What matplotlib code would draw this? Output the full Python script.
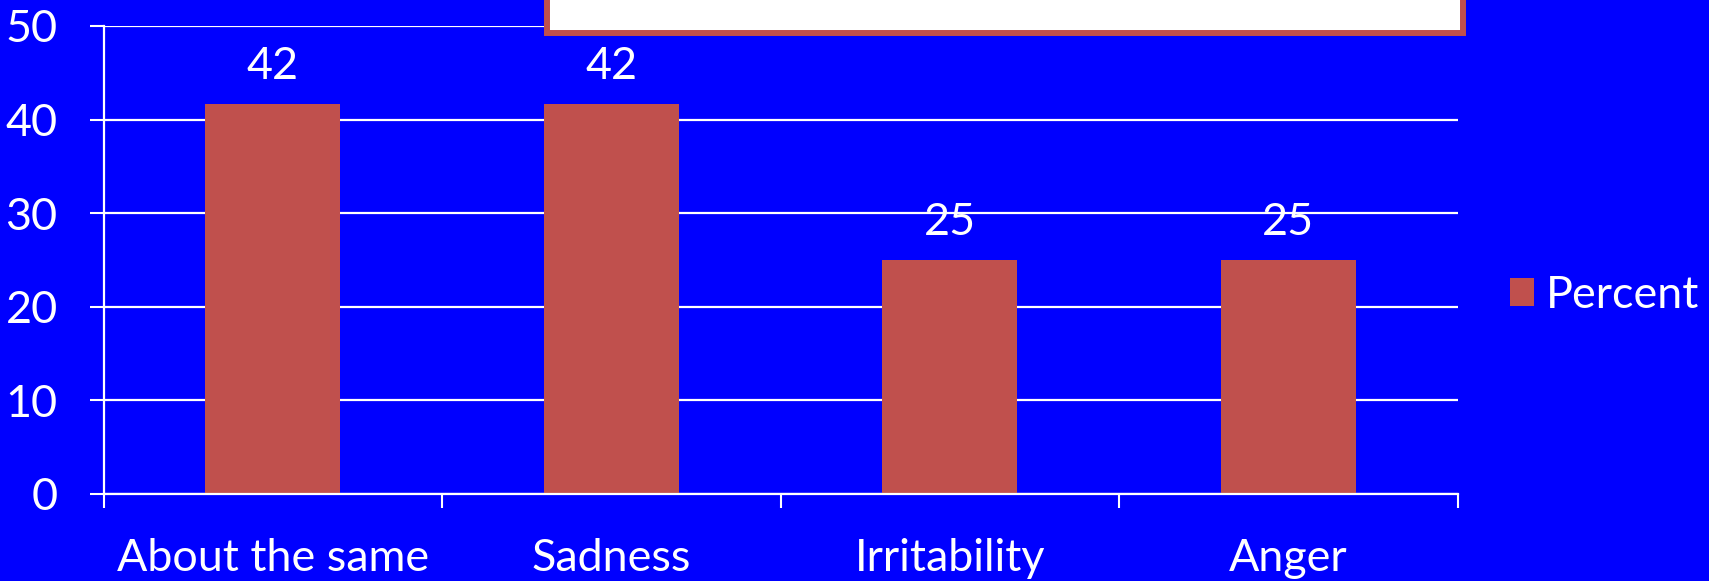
import matplotlib
matplotlib.use("Agg")
import matplotlib.pyplot as plt
from matplotlib.patches import Rectangle

# Data
categories = ["About the same", "Sadness", "Irritability", "Anger"]
percent = [41.67, 41.67, 25.0, 25.0]
series_name = "Percent"
y_ticks = [0, 10, 20, 30, 40, 50]

BG = "#0000FF"
BAR = "#C0504D"
FONT = "Lato"
FS = 32.3

plt.rcParams["font.family"] = [FONT, "DejaVu Sans"]

W, H = 1709, 581
fig = plt.figure(figsize=(W / 100, H / 100), dpi=100, facecolor=BG)
ax = fig.add_axes([103.5 / W, (H - 494) / H, (1457.5 - 103.5) / W, (494 - 26) / H])
ax.set_facecolor(BG)

x = list(range(len(categories)))
bars = ax.bar(x, percent, width=0.4, color=BAR, zorder=3, label=series_name)

for xi, v in zip(x, percent):
    ax.annotate(f"{v:.0f}", xy=(xi, v), xytext=(0, 18), textcoords="offset points",
                ha="center", va="baseline", color="white", fontsize=FS, zorder=4)

ax.set_xlim(-0.5, len(categories) - 0.5)
ax.set_ylim(0, 50)
ax.set_yticks(y_ticks)
ax.set_yticklabels([str(t) for t in y_ticks])
ax.grid(axis="y", color="white", linewidth=1.6, zorder=1)

# category boundaries get tick marks, labels sit at the centres
ax.set_xticks([i - 0.5 for i in range(len(categories) + 1)])
ax.set_xticklabels([])
ax.set_xticks(x, minor=True)
ax.set_xticklabels(categories, minor=True)
ax.tick_params(axis="x", which="major", length=10, width=1.5, color="white", direction="out")
ax.tick_params(axis="x", which="minor", length=0, pad=32, labelsize=FS, labelcolor="white")
ax.tick_params(axis="y", which="major", length=10, width=1.5, color="white", direction="out",
               pad=23, labelsize=FS, labelcolor="white")

for s in ("top", "right"):
    ax.spines[s].set_visible(False)
for s in ("left", "bottom"):
    ax.spines[s].set_color("white")
    ax.spines[s].set_linewidth(1.6)
    ax.spines[s].set_zorder(5)

leg = fig.legend(handles=[bars], labels=[series_name], loc="center left",
                 bbox_to_anchor=(1510 / W, (H - 295) / H), frameon=False,
                 fontsize=FS, handlelength=0.53, handleheight=0.58,
                 handletextpad=0.28, borderpad=0, borderaxespad=0)
for t in leg.get_texts():
    t.set_color("white")

# title box running off the top edge
box = Rectangle((546.5 / W, (H - 32.5) / H), (1463 - 546.5) / W, 0.2,
                transform=fig.transFigure, facecolor="white", edgecolor=BAR,
                linewidth=4.3, joinstyle="miter", zorder=10)
fig.add_artist(box)

fig.savefig("out.png", dpi=100, facecolor=BG)
